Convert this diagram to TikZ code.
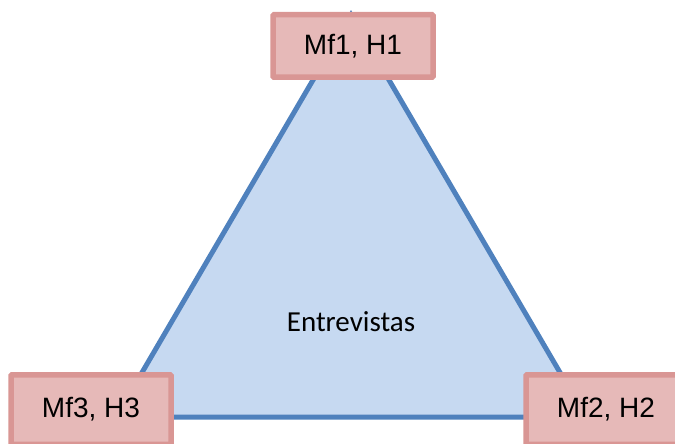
\documentclass[tikz,border=0pt]{standalone}
\usepackage{fontspec}
\setmainfont{Liberation Sans}
\newfontfamily\calib{Carlito}
\definecolor{triFill}{HTML}{C6D9F1}
\definecolor{triLine}{HTML}{4F81BD}
\definecolor{boxFill}{HTML}{E6B9B8}
\definecolor{boxLine}{HTML}{D99694}
\begin{document}
\begin{tikzpicture}[x=1pt,y=-1pt,
  pbox/.style={draw=boxLine,fill=boxFill,line width=5.5pt,rounded corners=1pt,minimum width=160pt,minimum height=62.5pt,inner sep=0pt,font=\fontsize{28}{32}\selectfont}]
\useasboundingbox (0,0) rectangle (675,444);
\clip (0,0) rectangle (675,444);
\coordinate (A) at (351,15);
\coordinate (B) at (586,417);
\coordinate (C) at (116,417);
\draw[fill=triFill,draw=triLine,line width=5pt,line join=miter] (A) -- (B) -- (C) -- cycle;
\node[font=\calib\fontsize{29}{32}\selectfont] (t) at (351,322) {Entrevistas};
\node[pbox] (n1) at (353,46) {Mf1, H1};
\node[pbox,minimum height=69.5pt] (n3) at (91,409.5) {Mf3, H3};
\node[pbox,minimum height=69.5pt] (n2) at (606,409.5) {Mf2, H2};
\end{tikzpicture}
\end{document}
